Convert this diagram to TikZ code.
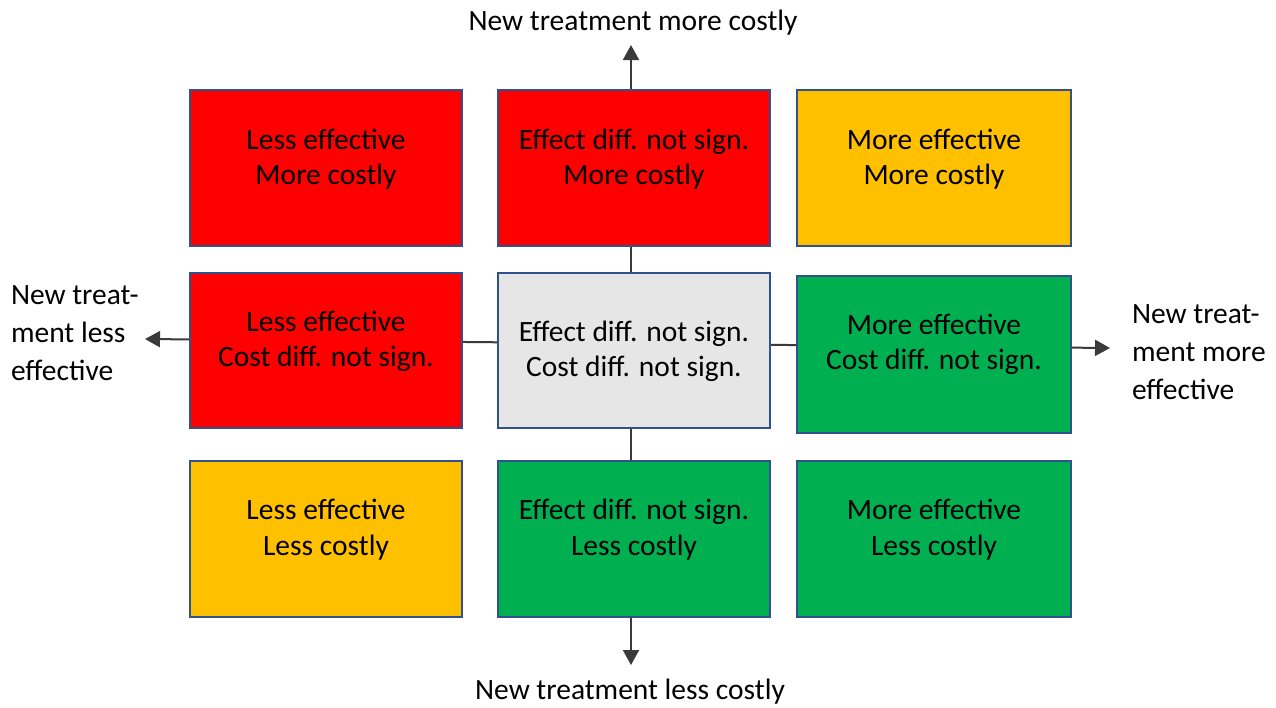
\documentclass[tikz,border=0pt]{standalone}
\usepackage{fontspec}
\setmainfont{Carlito}
\usetikzlibrary{arrows.meta}
\definecolor{boxblue}{HTML}{2F528F}
\definecolor{cellred}{HTML}{FF0000}
\definecolor{cellamber}{HTML}{FFC000}
\definecolor{cellgreen}{HTML}{00B050}
\definecolor{cellgrey}{HTML}{E7E6E6}
\definecolor{axisgrey}{HTML}{3A3A3A}
\begin{document}
\begin{tikzpicture}[x=1pt,y=-1pt,line width=2pt,
 >={Triangle[length=15pt,width=16pt]},
 font=\fontsize{29.5}{35.5}\selectfont,
 cell/.style={draw=boxblue,minimum width=272pt,minimum height=156pt,inner sep=0pt},
 celltext/.style={align=center,inner sep=0pt},
 axislabel/.style={align=left,inner sep=0pt,font=\fontsize{29.5}{38}\selectfont},
 axis/.style={draw=axisgrey,line width=2pt}]
\useasboundingbox (0,0) rectangle (1276,707);
% axes: cost up/down, effect left/right
\coordinate (costup) at (631,45);
\coordinate (costdown) at (631,665);
\coordinate (effleft) at (145,339);
\coordinate (effright) at (1110,348);
\draw[axis,<->] (costup) -- (costdown);
\draw[axis,<->] (effleft) -- (effright);
% row 1: more costly
\node[cell,fill=cellred] (lessmore) at (326,168) {};
\node[celltext] (lessmoretext) at ([yshift=9pt]lessmore.center) {Less effective\\More costly};
\node[cell,fill=cellred] (nsmore) at (634,168) {};
\node[celltext] (nsmoretext) at ([yshift=9pt]nsmore.center) {Effect diff. not sign.\\More costly};
\node[cell,fill=cellamber,minimum width=274pt] (moremore) at (934,168) {};
\node[celltext] (moremoretext) at ([yshift=9pt]moremore.center) {More effective\\More costly};
% row 2: cost diff. not sign.
\node[cell,fill=cellred,minimum height=155pt] (lessns) at (326,350.5) {};
\node[celltext] (lessnstext) at ([yshift=9pt]lessns.center) {Less effective\\Cost diff. not sign.};
\node[cell,fill=cellgrey,minimum height=155pt] (nsns) at (634,350.5) {};
\node[celltext] (nsnstext) at ([yshift=-1pt]nsns.center) {Effect diff. not sign.\\Cost diff. not sign.};
\node[cell,fill=cellgreen,minimum width=274pt,minimum height=157pt] (morens) at (934,354.5) {};
\node[celltext] (morenstext) at ([yshift=10pt]morens.center) {More effective\\Cost diff. not sign.};
% row 3: less costly
\node[cell,fill=cellamber] (lessless) at (326,538.5) {};
\node[celltext] (lesslesstext) at ([yshift=9pt]lessless.center) {Less effective\\Less costly};
\node[cell,fill=cellgreen] (nsless) at (634,538.5) {};
\node[celltext] (nslesstext) at ([yshift=9pt]nsless.center) {Effect diff. not sign.\\Less costly};
\node[cell,fill=cellgreen,minimum width=274pt] (moreless) at (934,538.5) {};
\node[celltext] (morelesstext) at ([yshift=9pt]moreless.center) {More effective\\Less costly};
% axis labels
\node[celltext,anchor=base] (costlabel) at (633,30) {New treatment more costly};
\node[celltext,anchor=base] (cheaplabel) at (630,699) {New treatment less costly};
\node[axislabel,anchor=west] (lesslabel) at (10,333) {New treat-\\ment less\\effective};
\node[axislabel,anchor=west] (morelabel) at (1131,352) {New treat-\\ment more\\effective};
\end{tikzpicture}
\end{document}
